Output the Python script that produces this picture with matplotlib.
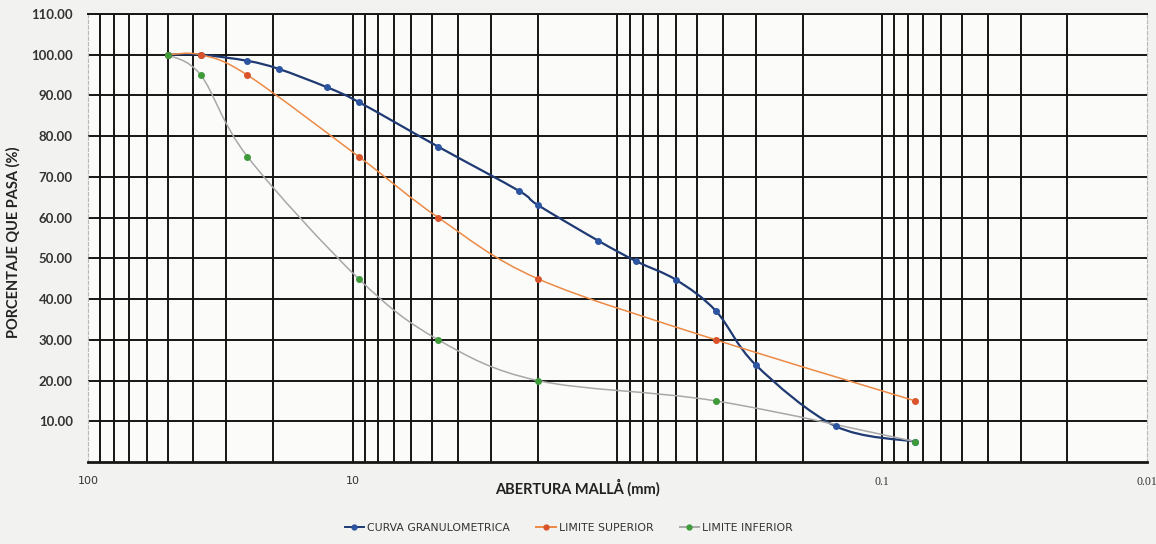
import numpy as np
import matplotlib
matplotlib.use("Agg")
import matplotlib.pyplot as plt
from matplotlib.path import Path
from matplotlib.patches import PathPatch
from matplotlib.lines import Line2D
from matplotlib.ticker import FixedLocator, NullLocator

# Sieve openings (mm) and percent passing
curva_mm = [50, 37.5, 25, 19, 12.5, 9.5, 4.75, 2.36, 2.0, 1.18, 0.85, 0.6, 0.425, 0.3, 0.15, 0.075]
curva_pct = [100, 100, 98.5, 96.5, 92, 88.4, 77.4, 66.6, 63.1, 54.3, 49.3, 44.7, 37.1, 23.8, 8.8, 5.0]

sup_mm = [50, 37.5, 25, 9.5, 4.75, 2.0, 0.425, 0.075]
sup_pct = [100, 100, 95, 75, 60, 45, 30, 15]

inf_mm = [50, 37.5, 25, 9.5, 4.75, 2.0, 0.425, 0.075]
inf_pct = [100, 95, 75, 45, 30, 20, 15, 5]

y_ticks = [10, 20, 30, 40, 50, 60, 70, 80, 90, 100, 110]
x_tick_vals = [100, 10, 0.1, 0.01]
x_tick_text = ["100", "10", "0.1", "0.01"]
series_names = ["CURVA GRANULOMETRICA", "LIMITE SUPERIOR", "LIMITE INFERIOR"]


def smooth_path(xs, ys):
    """Cubic Bezier path through the points (Catmull-Rom control points in log-x space)."""
    u = np.log10(np.asarray(xs, float))
    v = np.asarray(ys, float)
    n = len(u)
    verts = [(xs[0], ys[0])]
    codes = [Path.MOVETO]
    for i in range(n - 1):
        u0, v0 = (u[i - 1], v[i - 1]) if i > 0 else (u[i], v[i])
        u3, v3 = (u[i + 2], v[i + 2]) if i + 2 < n else (u[i + 1], v[i + 1])
        c1 = (u[i] + (u[i + 1] - u0) / 6, v[i] + (v[i + 1] - v0) / 6)
        c2 = (u[i + 1] - (u3 - u[i]) / 6, v[i + 1] - (v3 - v[i]) / 6)
        verts += [(10 ** c1[0], c1[1]), (10 ** c2[0], c2[1]), (xs[i + 1], ys[i + 1])]
        codes += [Path.CURVE4] * 3
    return Path(verts, codes)


fig = plt.figure(figsize=(11.56, 5.44), dpi=100, facecolor="#f2f2f0")
ax = fig.add_axes([0.0761, 0.1507, 0.9161, 0.8236])
ax.set_facecolor("#fbfbfa")

ax.set_xscale("log")
ax.set_xlim(100, 0.01)
ax.set_ylim(0, 110)

# Log grid: every 1-9 subdivision of each decade
grid_x = [m * 10.0 ** e for e in range(-2, 2) for m in range(1, 10)] + [100]
ax.xaxis.set_major_locator(FixedLocator(x_tick_vals))
ax.xaxis.set_minor_locator(NullLocator())
ax.set_xticks(x_tick_vals)
ax.set_xticklabels(x_tick_text)
for gx in grid_x:
    if 0.01 < gx < 100:
        ax.axvline(gx, color="#151515", lw=1.4, zorder=1)
ax.set_yticks(y_ticks)
ax.set_yticklabels([f"{t:.2f}" for t in y_ticks])
for gy in y_ticks:
    ax.axhline(gy, color="#151515", lw=1.4, zorder=1)

ax.tick_params(length=0, labelsize=8, labelcolor="#333333")
ax.tick_params(axis="x", pad=10)
ax.tick_params(axis="y", pad=11)
for lab in ax.get_xticklabels():
    if lab.get_text() in ("0.1", "0.01"):
        lab.set_family("Liberation Serif")
        lab.set_fontsize(8.5)
for lab in ax.get_yticklabels():
    lab.set_fontweight("bold")
    lab.set_family("Lato")
    lab.set_fontsize(9.5)

for side in ("left", "right"):
    ax.spines[side].set_color("#b8b8b8")
    ax.spines[side].set_linestyle((0, (3, 2)))
    ax.spines[side].set_linewidth(0.8)
ax.spines["top"].set_color("#151515")
ax.spines["top"].set_linewidth(1.4)
ax.spines["bottom"].set_color("#151515")
ax.spines["bottom"].set_linewidth(2.0)

styles = [
    (curva_mm, curva_pct, "#1f3a72", "#2c54a0", 1.6),
    (sup_mm, sup_pct, "#ec8a45", "#d9542a", 1.1),
    (inf_mm, inf_pct, "#a8a8a8", "#3f9a3a", 1.1),
]
handles = []
for (xs, ys, lc, mc, lw), name in zip(styles, series_names):
    ax.add_patch(PathPatch(smooth_path(xs, ys), fill=False, edgecolor=lc, lw=lw, zorder=3))
    ax.plot(xs, ys, ls="none", marker="o", ms=4, color=mc, zorder=4)
    handles.append(Line2D([], [], color=lc, lw=1.4, marker="o", ms=3.5, mfc=mc, mec=mc))

ax.set_xlabel("ABERTURA MALLÅ (mm)", fontsize=10.5, fontweight="bold", family="Lato",
              color="#222222")
ax.xaxis.set_label_coords(0.462, -0.037)
ax.set_ylabel("PORCENTAJE QUE PASA (%)", fontsize=10.5, fontweight="bold", family="Lato",
              color="#222222")
ax.yaxis.set_label_coords(-0.0635, 0.49)

fig.legend(handles, series_names, loc="center", bbox_to_anchor=(0.492, 0.029), ncol=3,
           frameon=False, fontsize=7.8, handlelength=1.8, handletextpad=0.3,
           columnspacing=2.4, labelcolor="#333333")

fig.savefig("out.png", dpi=100, facecolor=fig.get_facecolor())
